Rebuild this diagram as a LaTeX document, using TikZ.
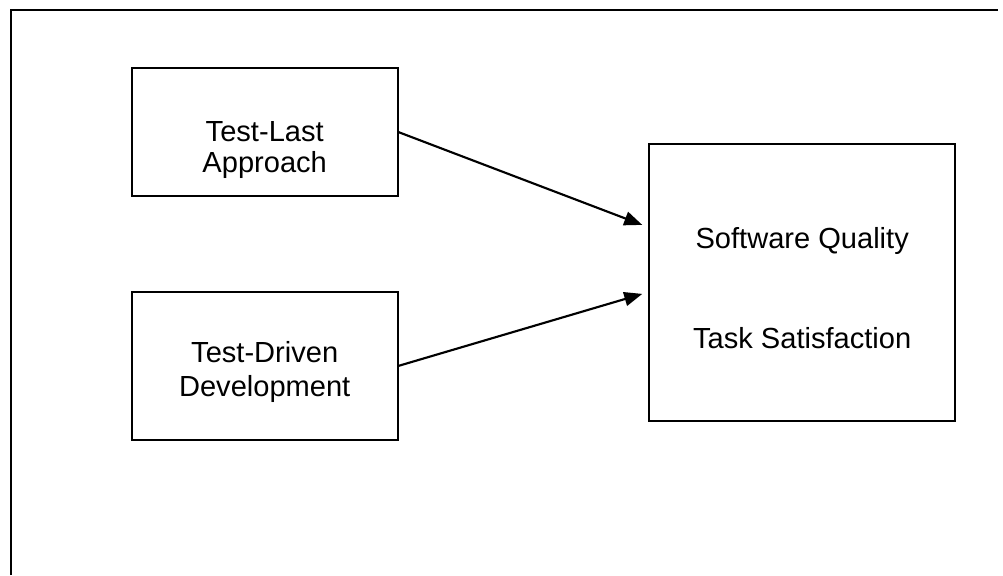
\documentclass[tikz,border=0pt]{standalone}
\usepackage{fontspec}
\setmainfont{Liberation Sans}
\usetikzlibrary{arrows.meta,calc}

\tikzset{
  box/.style={draw, line width=1.6pt, inner sep=0pt},
  lbl/.style={anchor=base, inner sep=0pt, font=\fontsize{21.8pt}{24pt}\selectfont},
  link/.style={line width=1.6pt, -{Triangle[length=13.5pt,width=10.5pt]}},
  frame/.style={line width=2pt}
}

\begin{document}
\begin{tikzpicture}[x=0.75pt, y=-0.75pt]
  \useasboundingbox (0,0) rectangle (1003,575);

  % open frame: top and left edges only
  \coordinate (fb) at (11,575);
  \coordinate (fc) at (11,10);
  \coordinate (fr) at (998,10);
  \draw[frame] (fb) -- (fc) -- (fr);

  % independent variables
  \node[box, minimum width=199.5pt, minimum height=95.8pt] (tl) at (264.7,132.2) {};
  \node[box, minimum width=199.5pt, minimum height=111.2pt] (td) at (264.7,365.8) {};

  % outcome box
  \node[box, minimum width=229.3pt, minimum height=207.5pt] (sq) at (802.2,282.3) {};

  % labels
  \node[lbl] (tl1) at ($(tl.center)+(0,8.8)$) {Test-Last};
  \node[lbl] (tl2) at ($(tl.center)+(0,40.1)$) {Approach};
  \node[lbl] (td1) at ($(td.center)+(0,-3.1)$) {Test-Driven};
  \node[lbl] (td2) at ($(td.center)+(0,30.2)$) {Development};
  \node[lbl] (sq1) at ($(sq.center)+(0,-34)$) {Software Quality};
  \node[lbl] (sq2) at ($(sq.center)+(0,66)$) {Task Satisfaction};

  % arrow targets just short of the outcome box
  \coordinate (in1) at ($(sq.north west)+(-6,82)$);
  \coordinate (in2) at ($(sq.north west)+(-6,151)$);

  \draw[link] (tl.east) -- (in1);
  \draw[link] (td.east) -- (in2);
\end{tikzpicture}
\end{document}
